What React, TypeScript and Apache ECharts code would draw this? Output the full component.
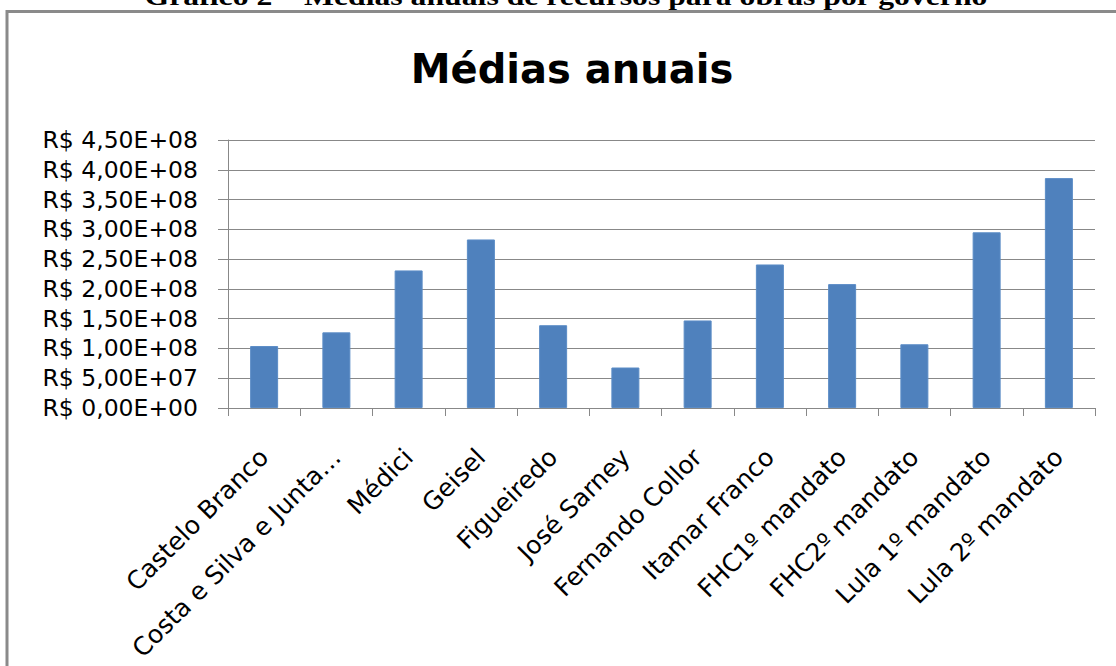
import React, { useEffect, useRef } from "react";
import * as echarts from "echarts";

const categories = [
  "Castelo Branco",
  "Costa e Silva e Junta…",
  "Médici",
  "Geisel",
  "Figueiredo",
  "José Sarney",
  "Fernando Collor",
  "Itamar Franco",
  "FHC1º mandato",
  "FHC2º mandato",
  "Lula 1º mandato",
  "Lula 2º mandato",
];

const averages = [
  1.04e8, 1.27e8, 2.31e8, 2.83e8, 1.39e8, 0.68e8, 1.47e8, 2.41e8, 2.08e8, 1.07e8, 2.95e8, 3.86e8,
];

const yMin = 0;
const yMax = 4.5e8;
const yStep = 5e7;

const chartTitle = "Médias anuais";
const caption = "Gráfico 2 – Médias anuais de recursos para obras por governo";

function formatReais(v: number): string {
  const [mant, exp] = v.toExponential(2).split("e");
  const e = parseInt(exp, 10);
  const sign = e < 0 ? "-" : "+";
  const ee = String(Math.abs(e)).padStart(2, "0");
  return "R$ " + mant.replace(".", ",") + "E" + sign + ee;
}

export default function App() {
  const ref = useRef<HTMLDivElement>(null);
  useEffect(() => {
    if (!ref.current) return;
    const chart = echarts.init(ref.current, null, { renderer: "svg" });
    const grey = "#888888";
    chart.setOption({
      animation: false,
      backgroundColor: "#ffffff",
      title: {
        text: chartTitle,
        left: 567,
        top: 44,
        textAlign: "center",
        textStyle: {
          fontFamily: "DejaVu Sans",
          fontWeight: "bold",
          fontSize: 40,
          color: "#000000",
        },
      },
      graphic: [
        {
          type: "text",
          x: 566,
          y: 9,
          scaleX: 1.22,
          style: {
            text: caption,
            font: "bold 26px 'Liberation Serif'",
            fill: "#000000",
            textAlign: "center",
            textVerticalAlign: "bottom",
          },
          z: 10,
        },
        {
          type: "rect",
          shape: { x: 7, y: 11.5, width: 1200, height: 800 },
          style: { fill: "none", stroke: "#8a8a8a", lineWidth: 3 },
          z: 11,
        },
      ],
      grid: { left: 228, right: 21, top: 140, bottom: 258 },
      xAxis: {
        type: "category",
        data: categories,
        boundaryGap: true,
        axisLine: { show: true, lineStyle: { color: grey, width: 1 } },
        axisTick: { show: true, length: 8, lineStyle: { color: grey }, alignWithLabel: false },
        axisLabel: {
          rotate: 45,
          interval: 0,
          margin: 45,
          fontFamily: "DejaVu Sans",
          fontSize: 25,
          color: "#000000",
        },
        splitLine: { show: false },
      },
      yAxis: {
        type: "value",
        min: yMin,
        max: yMax,
        interval: yStep,
        axisLine: { show: true, lineStyle: { color: grey, width: 1 } },
        axisTick: { show: true, length: 10, lineStyle: { color: grey } },
        axisLabel: {
          formatter: (v: number) => formatReais(v),
          margin: 30,
          fontFamily: "DejaVu Sans",
          fontSize: 23.5,
          color: "#000000",
        },
        splitLine: { show: true, lineStyle: { color: grey, width: 1 } },
      },
      series: [
        {
          type: "bar",
          data: averages,
          barWidth: 28,
          itemStyle: { color: "#4F81BD", borderColor: "#5B8CC6", borderWidth: 1 },
        },
      ],
    });
    return () => chart.dispose();
  }, []);
  return (
    <div
      ref={ref}
      style={{ position: "fixed", left: 0, top: 0, width: 1116, height: 666, background: "#fff" }}
    />
  );
}
